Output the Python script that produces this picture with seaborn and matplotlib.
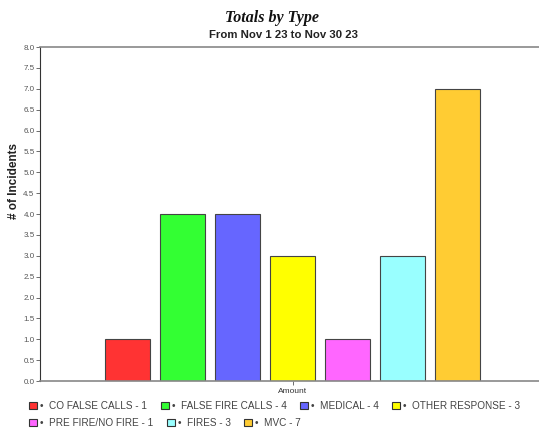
import matplotlib
matplotlib.use('Agg')
import matplotlib.pyplot as plt
import seaborn as sns
import pandas as pd
import numpy as np

types = ['CO FALSE CALLS', 'FALSE FIRE CALLS', 'MEDICAL', 'OTHER RESPONSE',
         'PRE FIRE/NO FIRE', 'FIRES', 'MVC']
counts = [1, 4, 4, 3, 1, 3, 7]
colors = ['#FF3333', '#33FF33', '#6666FF', '#FFFF00', '#FF66FF', '#99FFFF', '#FFCC33']
yticks = np.arange(0, 8.01, 0.5)

sns.set_theme(style='white')
plt.rcParams['font.family'] = ['Liberation Sans', 'DejaVu Sans']

labels = [f'\u2022  {t} - {c}' for t, c in zip(types, counts)]
df = pd.DataFrame({'group': ['Amount'] * len(types), 'label': labels, 'value': counts})

fig = plt.figure(figsize=(5.39, 4.42), dpi=100)
ax = fig.add_axes([40 / 539, 1 - 381 / 442, 499 / 539, 334 / 442])

sns.barplot(data=df, x='group', y='value', hue='label', hue_order=labels,
            palette=colors, width=0.8, gap=0.18, edgecolor='#444444',
            linewidth=0.8, saturation=1, ax=ax)

handles, hl = ax.get_legend_handles_labels()
ax.get_legend().remove()

ax.set_ylim(0, 8)
ax.set_xlim(-0.525, 0.5125)
ax.set_yticks(yticks)
ax.set_yticklabels([f'{v:.1f}' for v in yticks], fontsize=5.8, color='#555555')
ax.tick_params(axis='y', which='both', left=True, length=3, width=0.6, color='#555555', pad=1)
ax.tick_params(axis='x', which='both', bottom=True, length=3, width=0.6, color='#555555', pad=2,
               labelsize=6, labelcolor='#333333')
ax.set_xlabel('')
ax.set_ylabel('# of Incidents', fontsize=8.5, fontweight='bold', color='#222222')
ax.yaxis.set_label_coords(-0.04, 0.60)

for side in ['top', 'bottom']:
    ax.spines[side].set_color('#888888')
    ax.spines[side].set_linewidth(1.2)
ax.spines['left'].set_color('#333333')
ax.spines['left'].set_linewidth(0.8)
ax.spines['right'].set_visible(False)

fig.text(0.505, 0.960, 'Totals by Type', ha='center', va='center', fontsize=11.5,
         fontweight='bold', fontstyle='italic', family='Liberation Serif', color='#111111')
fig.text(0.525, 0.921, 'From Nov 1 23 to Nov 30 23', ha='center', va='center',
         fontsize=8.2, fontweight='bold', color='#222222')

leg_kw = dict(frameon=False, fontsize=7.2, handlelength=0.8, handleheight=0.8,
              handletextpad=0.3, columnspacing=1.35, labelcolor='#444444', borderpad=0)
leg1 = fig.legend(handles[:4], hl[:4], ncol=4, loc='center left',
                  bbox_to_anchor=(24 / 539, 1 - 406 / 442), **leg_kw)
leg2 = fig.legend(handles[4:], hl[4:], ncol=3, loc='center left',
                  bbox_to_anchor=(24 / 539, 1 - 423 / 442), **leg_kw)
for leg in (leg1, leg2):
    for h in leg.legend_handles:
        h.set_edgecolor('#333333')
        h.set_linewidth(0.8)

fig.savefig('out.png', dpi=100)
